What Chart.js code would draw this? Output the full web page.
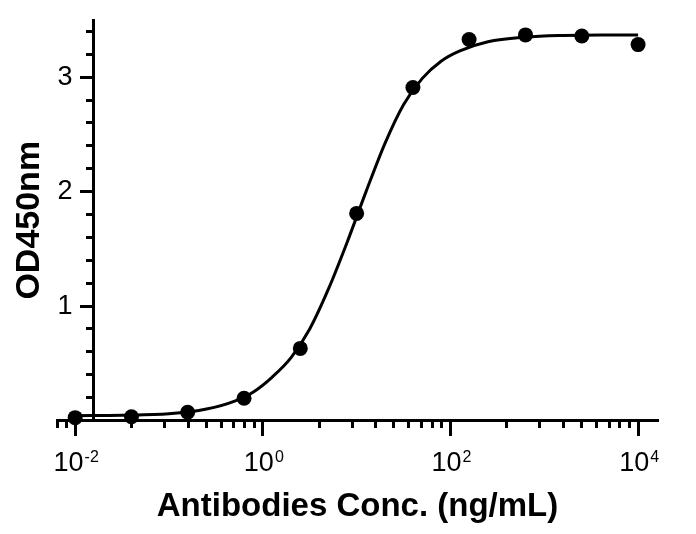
<!DOCTYPE html>
<html>
<head>
<meta charset="utf-8">
<script src="https://cdn.jsdelivr.net/npm/chart.js@4.4.1/dist/chart.umd.min.js"></script>
<style>
  html, body { margin: 0; padding: 0; background: #fff; }
  #wrap { width: 696px; height: 534px; }
</style>
</head>
<body>
<div id="wrap"><canvas id="c"></canvas></div>
<script>
// measured points (ng/mL vs OD450)
var conc = [0.01, 0.0398, 0.158, 0.631, 2.51, 10, 39.8, 158, 631, 2512, 10000];
var od = [0.025, 0.033, 0.072, 0.195, 0.63, 1.81, 2.91, 3.33, 3.37, 3.36, 3.285];

// fitted curve
var curveConc = [0.01, 0.0316, 0.1, 0.251, 0.501, 0.794, 1.26, 2.0, 3.16, 5.01, 7.94, 12.6, 20.0, 31.6, 50.1, 79.4, 126, 251, 631, 1585, 3981, 10000];
var curveOd = [0.042, 0.045, 0.058, 0.10, 0.17, 0.25, 0.38, 0.55, 0.80, 1.15, 1.56, 2.00, 2.42, 2.76, 2.99, 3.14, 3.23, 3.31, 3.35, 3.365, 3.37, 3.37];

// axis ticks
var xTicks = [0.01, 1, 100, 10000];
var xTickBase = '10';
var xTickExp = ['-2', '0', '2', '4'];
var xMinor = [0.0064, 0.0081, 0.04, 0.09, 0.16, 0.25, 0.36, 0.49, 0.64, 0.81,
              4, 9, 16, 25, 36, 49, 64, 81, 400, 900, 1600, 2500, 3600, 4900, 6400, 8100];
var yTicks = [1, 2, 3];
var yMinor = [0.2, 0.4, 0.6, 0.8, 1.2, 1.4, 1.6, 1.8, 2.2, 2.4, 2.6, 2.8, 3.2, 3.4];

var font = 'Liberation Sans';
var xMin = 0.0064, xMax = 16300;
var yAxisAt = 0.0155;

function setTicks(list) {
  return function (scale) {
    scale.ticks = list.map(v => ({value: v}));
  };
}

// x labels as 10 with a raised exponent, placed by the x scale
var powerLabels = {
  id: 'powerLabels',
  afterDraw: function (chart) {
    var sc = chart.scales.x;
    var ctx = chart.ctx;
    var base = sc.bottom;
    var y0 = chart.scales.y.getPixelForValue(0);
    ctx.save();
    ctx.fillStyle = '#000';
    ctx.textBaseline = 'alphabetic';
    ctx.textAlign = 'left';
    xTicks.forEach(function (v, i) {
      var px = sc.getPixelForValue(v);
      ctx.font = '27px "' + font + '"';
      var w1 = ctx.measureText(xTickBase).width;
      ctx.font = '16px "' + font + '"';
      var w2 = ctx.measureText(xTickExp[i]).width;
      var left = px + 1 - (w1 + w2 + 1) / 2;
      ctx.font = '27px "' + font + '"';
      ctx.fillText(xTickBase, left, y0 + 50);
      ctx.font = '16px "' + font + '"';
      ctx.fillText(xTickExp[i], left + w1 + 1, y0 + 41);
    });
    ctx.restore();
  }
};

var axisCommon = {
  border: {display: true, color: '#000', width: 3},
  grid: {drawOnChartArea: false, drawTicks: true, tickColor: '#000', tickWidth: 3}
};

new Chart(document.getElementById('c'), {
  type: 'scatter',
  data: {
    datasets: [{
      data: conc.map((c, i) => ({x: c, y: od[i]})),
      showLine: false,
      pointRadius: 7.5,
      pointBackgroundColor: '#000',
      pointBorderColor: '#000',
      pointBorderWidth: 0,
      clip: false
    }, {
      data: curveConc.map((c, i) => ({x: c, y: curveOd[i]})),
      showLine: true,
      pointRadius: 0,
      borderColor: '#000',
      borderWidth: 3,
      cubicInterpolationMode: 'monotone',
      clip: false
    }]
  },
  plugins: [powerLabels],
  options: {
    responsive: true,
    maintainAspectRatio: false,
    animation: false,
    layout: {
      padding: {top: 20, right: 38, bottom: 0, left: 0}
    },
    scales: {
      x: {
        type: 'logarithmic',
        axis: 'x',
        position: {y: 0},
        min: xMin,
        max: xMax,
        afterBuildTicks: setTicks(xTicks),
        ticks: {display: false},
        border: axisCommon.border,
        grid: Object.assign({tickLength: 14}, axisCommon.grid)
      },
      xm: {
        type: 'logarithmic',
        axis: 'x',
        position: {y: 0},
        min: xMin,
        max: xMax,
        afterBuildTicks: setTicks(xMinor),
        ticks: {display: false},
        border: axisCommon.border,
        grid: Object.assign({tickLength: 6}, axisCommon.grid)
      },
      y: {
        type: 'linear',
        axis: 'y',
        position: {x: yAxisAt},
        min: 0,
        max: 3.5,
        afterBuildTicks: setTicks(yTicks),
        ticks: {
          padding: 3,
          color: '#000',
          font: {family: font, size: 27, lineHeight: 1},
          callback: function (v) { return '' + v + '  \u2009'; }
        },
        border: axisCommon.border,
        grid: Object.assign({tickLength: 12}, axisCommon.grid)
      },
      ym: {
        type: 'linear',
        axis: 'y',
        position: {x: yAxisAt},
        min: 0,
        max: 3.5,
        afterBuildTicks: setTicks(yMinor),
        ticks: {display: false},
        border: axisCommon.border,
        grid: Object.assign({tickLength: 6}, axisCommon.grid)
      }
    },
    plugins: {
      legend: {display: false},
      tooltip: {enabled: false},
      title: {
        display: true,
        position: 'left',
        fullSize: false,
        text: 'OD450nm',
        color: '#000',
        font: {family: font, size: 34, weight: 'bold', lineHeight: 1},
        padding: {top: 12.5, bottom: 10.5}
      },
      subtitle: {
        display: true,
        position: 'bottom',
        fullSize: false,
        text: 'Antibodies Conc. (ng/mL)',
        color: '#000',
        font: {family: font, size: 33, weight: 'bold', lineHeight: 1},
        padding: {top: 70, bottom: 10.5}
      }
    }
  }
});
</script>
</body>
</html>
